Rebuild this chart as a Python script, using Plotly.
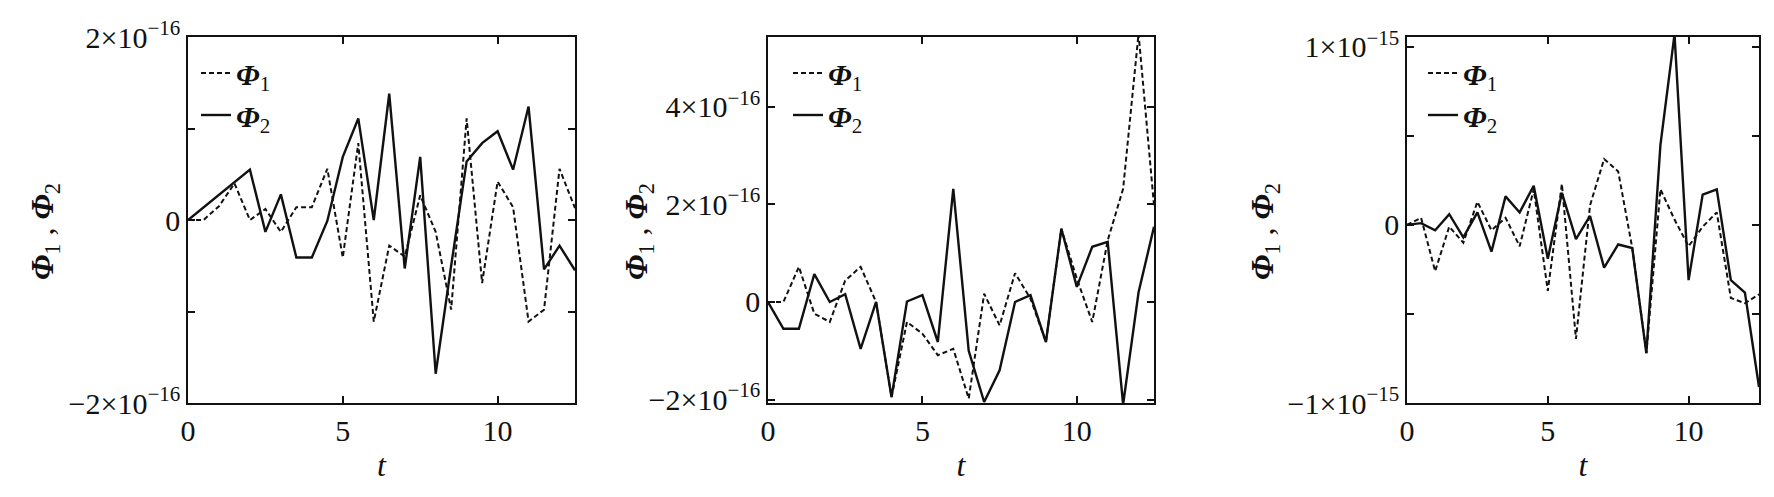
import plotly.graph_objects as go

# time samples
t = [0, 0.5, 1, 1.5, 2, 2.5, 3, 3.5, 4, 4.5, 5, 5.5, 6, 6.5, 7, 7.5, 8, 8.5,
     9, 9.5, 10, 10.5, 11, 11.5, 12, 12.5]

# Panel (a): values in units of 1e-16
a_phi1 = [0, 0, 0.15, 0.40, 0, 0.12, -0.13, 0.14, 0.14, 0.56, -0.41, 0.84, -1.11,
          -0.28, -0.40, 0.27, -0.13, -0.98, 1.11, -0.69, 0.42, 0.14, -1.11, -0.98,
          0.56, 0.13]
a_phi2 = [0, 0.14, 0.27, 0.41, 0.55, -0.13, 0.28, -0.41, -0.41, -0.01, 0.69, 1.11, 0,
          1.38, -0.53, 0.69, -1.68, -0.50, 0.64, 0.84, 0.97, 0.55, 1.24, -0.54,
          -0.28, -0.55]

# Panel (b): values in units of 1e-16
b_phi1 = [0, 0, 0.72, -0.24, -0.41, 0.44, 0.72, 0, -1.95, -0.41, -0.65, -1.09, -0.96,
          -1.98, 0.17, -0.48, 0.59, 0.07, -0.82, 1.50, 0.48, -0.41, 1.26, 2.32,
          5.50, 1.98]
b_phi2 = [0, -0.55, -0.55, 0.57, 0, 0.16, -0.96, 0, -1.95, 0.01, 0.14, -0.82, 2.32,
          -1.0, -2.05, -1.40, 0, 0.14, -0.82, 1.50, 0.31, 1.13, 1.23, -2.10,
          0.20, 1.54]

# Panel (c): values in units of 1e-15
c_phi1 = [0, 0.04, -0.26, -0.01, -0.10, 0.13, -0.03, 0.04, -0.12, 0.20, -0.37, 0.23,
          -0.64, 0.11, 0.37, 0.30, -0.13, -0.72, 0.20, 0.03, -0.12, -0.01, 0.07,
          -0.41, -0.44, -0.39]
c_phi2 = [0, 0.01, -0.03, 0.06, -0.07, 0.07, -0.15, 0.16, 0.07, 0.22, -0.19, 0.18,
          -0.08, 0.05, -0.24, -0.11, -0.13, -0.72, 0.45, 1.07, -0.31, 0.17, 0.20,
          -0.31, -0.38, -0.91]

units = [1e-16, 1e-16, 1e-15]
phi1_sets = [a_phi1, b_phi1, c_phi1]
phi2_sets = [a_phi2, b_phi2, c_phi2]

x_ticks = [0, 5, 10]
x_ticklabels = ["0", "5", "10"]

a_yticks = [-2e-16, -1e-16, 0, 1e-16, 2e-16]
a_yticklabels = ["−2×10<sup>−16</sup>", "", "0", "", "2×10<sup>−16</sup>"]
b_yticks = [-2e-16, 0, 2e-16, 4e-16]
b_yticklabels = ["−2×10<sup>−16</sup>", "0", "2×10<sup>−16</sup>", "4×10<sup>−16</sup>"]
c_yticks = [-1e-15, -0.5e-15, 0, 0.5e-15, 1e-15]
c_yticklabels = ["−1×10<sup>−15</sup>", "", "0", "", "1×10<sup>−15</sup>"]

yranges = [[-2e-16, 2e-16], [-2.07e-16, 5.43e-16], [-1.0e-15, 1.055e-15]]
ytick_sets = [(a_yticks, a_yticklabels), (b_yticks, b_yticklabels), (c_yticks, c_yticklabels)]

W, H = 1774, 497
xdom_px = [(188, 575), (768, 1154), (1407, 1759)]
ydom_px = (37, 403)
ylabel_x_px = [45, 639, 1265]
legend_x_px = [196, 788, 1423]

FONT = "Liberation Serif, Times New Roman, Times, serif"
phi1_name = "<b><i>Φ</i></b><sub>1</sub>"
phi2_name = "<b><i>Φ</i></b><sub>2</sub>"

fig = go.Figure()
for i in range(3):
    xs = "x" if i == 0 else f"x{i+1}"
    ys = "y" if i == 0 else f"y{i+1}"
    lg = "legend" if i == 0 else f"legend{i+1}"
    u = units[i]
    fig.add_trace(go.Scatter(x=t, y=[v * u for v in phi1_sets[i]], mode="lines",
                             name=phi1_name, xaxis=xs, yaxis=ys, legend=lg,
                             legendgroup=f"g1_{i}",
                             line=dict(color="#111111", width=2.0, dash="5px,3px")))
    fig.add_trace(go.Scatter(x=t, y=[v * u for v in phi2_sets[i]], mode="lines",
                             name=phi2_name, xaxis=xs, yaxis=ys, legend=lg,
                             legendgroup=f"g2_{i}",
                             line=dict(color="#111111", width=2.4)))

layout = dict(width=W, height=H, margin=dict(l=0, r=0, t=0, b=0, autoexpand=False),
              paper_bgcolor="white", plot_bgcolor="white",
              font=dict(family=FONT, size=28, color="#111111"),
              showlegend=True)

y0 = (H - ydom_px[1]) / H
y1 = (H - ydom_px[0]) / H
annotations = []
for i in range(3):
    xk = "xaxis" if i == 0 else f"xaxis{i+1}"
    yk = "yaxis" if i == 0 else f"yaxis{i+1}"
    xa = "x" if i == 0 else f"x{i+1}"
    ya = "y" if i == 0 else f"y{i+1}"
    d0, d1 = xdom_px[i][0] / W, xdom_px[i][1] / W
    layout[xk] = dict(domain=[d0, d1], anchor=ya, range=[0, 12.5], automargin=False,
                      tickvals=x_ticks, ticktext=x_ticklabels,
                      ticks="inside", ticklen=7, tickwidth=1.5, tickcolor="#111111",
                      showline=True, linecolor="#111111", linewidth=1.5, mirror="ticks",
                      showgrid=False, zeroline=False,
                      tickfont=dict(family=FONT, size=30),
                      title=dict(text="<i>t</i>", font=dict(family=FONT, size=32), standoff=8))
    tv, tt = ytick_sets[i]
    layout[yk] = dict(domain=[y0, y1], anchor=xa, range=yranges[i], automargin=False,
                      tickvals=tv, ticktext=tt,
                      ticks="inside", ticklen=7, tickwidth=1.5, tickcolor="#111111",
                      showline=True, linecolor="#111111", linewidth=1.5, mirror="ticks",
                      showgrid=False, zeroline=False,
                      tickfont=dict(family=FONT, size=30))
    lg = "legend" if i == 0 else f"legend{i+1}"
    layout[lg] = dict(x=legend_x_px[i] / W, y=(H - 47) / H, xanchor="left", yanchor="top",
                      bgcolor="rgba(0,0,0,0)", borderwidth=0,
                      font=dict(family=FONT, size=30, color="#111111"),
                      tracegroupgap=0, itemwidth=30)
    annotations.append(dict(xref="paper", yref="paper", x=ylabel_x_px[i] / W,
                            y=(H - 232) / H, xanchor="center", yanchor="middle",
                            text="<b><i>Φ</i></b><sub>1</sub> , <b><i>Φ</i></b><sub>2</sub>",
                            textangle=-90, showarrow=False,
                            font=dict(family=FONT, size=32, color="#111111")))
layout["annotations"] = annotations

fig.update_layout(**layout)
fig.write_html("out.html", config={"displayModeBar": False},
               post_script="document.body.style.margin='0';document.body.style.padding='0';")
